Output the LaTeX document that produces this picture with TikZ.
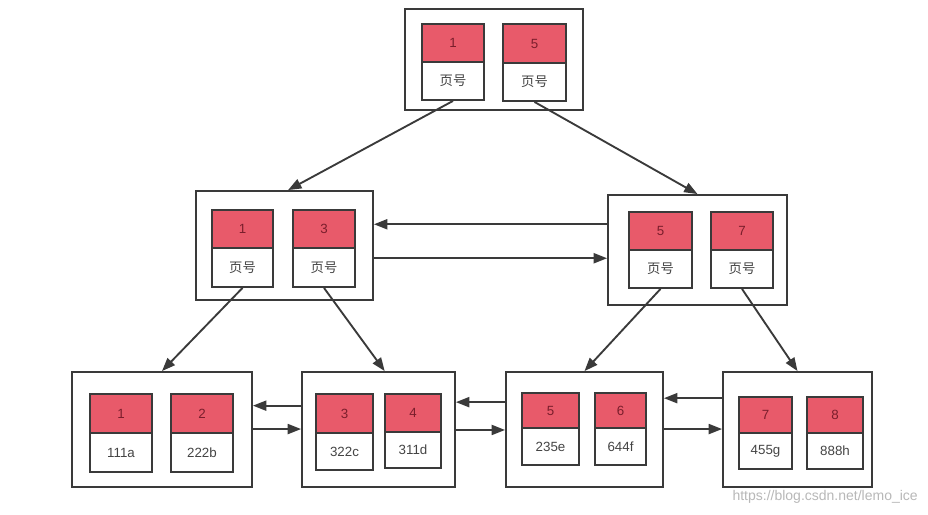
\documentclass[tikz,border=0pt]{standalone}
\usepackage{fontspec}
\setmainfont{Liberation Sans}
\newfontfamily\cjk{Noto Sans CJK SC}
\usetikzlibrary{fit,calc,arrows.meta}
\definecolor{keyred}{HTML}{E85A6A}
\definecolor{keytxt}{HTML}{7A1E2C}
\definecolor{linec}{HTML}{3A3A3A}
\definecolor{valtxt}{HTML}{444444}
\begin{document}
\begin{tikzpicture}[x=0.75pt,y=-0.75pt,
  outer/.style={draw=linec,line width=1.4pt,inner sep=0pt,fill=white},
  keycell/.style={draw=linec,line width=1.4pt,inner sep=0pt,fill=keyred,
    label={[text=keytxt,font=\fontsize{10}{12}\selectfont]center:#1}},
  valcell/.style={draw=linec,line width=1.4pt,inner sep=0pt,fill=white,
    label={[text=valtxt,font=\fontsize{10}{12}\selectfont]center:#1}},
  arr/.style={draw=linec,line width=1.4pt,-{Triangle[length=10pt,width=7.5pt]}},
  wmark/.style={text=black!28,font=\fontsize{10.5}{12}\selectfont,inner sep=0pt}]
\useasboundingbox (0,0) rectangle (928,514);
\fill[white] (0,0) rectangle (928,514);
% top
\node[outer, fit={(405,9)(583,110)}] (T) {};
\node[keycell=1, fit={(422,24)(484,62)}] (T1k) {};
\node[valcell={\cjk 页号}, fit={(422,62)(484,100)}] (T1v) {};
\node[keycell=5, fit={(503,24)(566,63)}] (T2k) {};
\node[valcell={\cjk 页号}, fit={(503,63)(566,101)}] (T2v) {};
% middle left
\node[outer, fit={(196,191)(373,300)}] (L) {};
\node[keycell=1, fit={(212,210)(273,248)}] (L1k) {};
\node[valcell={\cjk 页号}, fit={(212,248)(273,287)}] (L1v) {};
\node[keycell=3, fit={(293,210)(355,248)}] (L2k) {};
\node[valcell={\cjk 页号}, fit={(293,248)(355,287)}] (L2v) {};
% middle right
\node[outer, fit={(608,195)(787,305)}] (R) {};
\node[keycell=5, fit={(629,212)(692,250)}] (R1k) {};
\node[valcell={\cjk 页号}, fit={(629,250)(692,288)}] (R1v) {};
\node[keycell=7, fit={(711,212)(773,250)}] (R2k) {};
\node[valcell={\cjk 页号}, fit={(711,250)(773,288)}] (R2v) {};
% bottom
\node[outer, fit={(72,372)(252,487)}] (B1) {};
\node[keycell=1, fit={(90,394)(152,433)}] (B1ak) {};
\node[valcell=111a, fit={(90,433)(152,472)}] (B1av) {};
\node[keycell=2, fit={(171,394)(233,433)}] (B1bk) {};
\node[valcell=222b, fit={(171,433)(233,472)}] (B1bv) {};
\node[outer, fit={(302,372)(455,487)}] (B2) {};
\node[keycell=3, fit={(316,394)(373,433)}] (B2ak) {};
\node[valcell=322c, fit={(316,433)(373,470)}] (B2av) {};
\node[keycell=4, fit={(385,394)(441,432)}] (B2bk) {};
\node[valcell=311d, fit={(385,432)(441,468)}] (B2bv) {};
\node[outer, fit={(506,372)(663,487)}] (B3) {};
\node[keycell=5, fit={(522,393)(579,428)}] (B3ak) {};
\node[valcell=235e, fit={(522,428)(579,465)}] (B3av) {};
\node[keycell=6, fit={(595,393)(646,428)}] (B3bk) {};
\node[valcell=644f, fit={(595,428)(646,465)}] (B3bv) {};
\node[outer, fit={(723,372)(872,487)}] (B4) {};
\node[keycell=7, fit={(739,397)(792,433)}] (B4ak) {};
\node[valcell=455g, fit={(739,433)(792,469)}] (B4av) {};
\node[keycell=8, fit={(807,397)(863,433)}] (B4bk) {};
\node[valcell=888h, fit={(807,433)(863,469)}] (B4bv) {};
% tree arrows
\draw[arr] (T1v.south) -- ($(L.north west)!0.52!(L.north east)$);
\draw[arr] (T2v.south) -- (R.north);
\draw[arr] (L1v.south) -- (B1.north);
\draw[arr] (L2v.south) -- ($(B2.north west)!0.54!(B2.north east)$);
\draw[arr] (R1v.south) -- (B3.north);
\draw[arr] (R2v.south) -- (B4.north);
% sibling arrows
\coordinate (m1) at ($(R.north west)!0.27!(R.south west)$);
\draw[arr] (m1) -- (m1 -| L.east);
\coordinate (m2) at ($(L.north east)!0.615!(L.south east)$);
\draw[arr] (m2) -- (m2 -| R.west);
\coordinate (b1) at ($(B2.north west)!0.296!(B2.south west)$);
\draw[arr] (b1) -- (b1 -| B1.east);
\coordinate (b2) at ($(B1.north east)!0.496!(B1.south east)$);
\draw[arr] (b2) -- (b2 -| B2.west);
\coordinate (b3) at ($(B3.north west)!0.266!(B3.south west)$);
\draw[arr] (b3) -- (b3 -| B2.east);
\coordinate (b4) at ($(B2.north east)!0.504!(B2.south east)$);
\draw[arr] (b4) -- (b4 -| B3.west);
\coordinate (b5) at ($(B4.north west)!0.232!(B4.south west)$);
\draw[arr] (b5) -- (b5 -| B3.east);
\coordinate (b6) at ($(B3.north east)!0.496!(B3.south east)$);
\draw[arr] (b6) -- (b6 -| B4.west);
% watermark
\node[wmark, anchor=east] (wm) at (918,497) {https://blog.csdn.net/lemo\_ice};
\end{tikzpicture}
\end{document}
